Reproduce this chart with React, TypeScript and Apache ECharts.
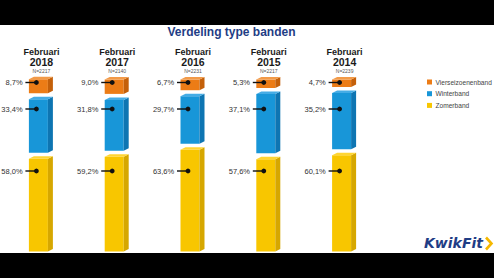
import React, { useEffect, useRef } from 'react';
import * as echarts from 'echarts';

const years = ['2018', '2017', '2016', '2015', '2014'];
const sampleSizes = ['N=2217', 'N=2140', 'N=2231', 'N=2217', 'N=2239'];
const zomerband = [58.0, 59.2, 63.6, 57.6, 60.1];
const winterband = [33.4, 31.8, 29.7, 37.1, 35.2];
const vierseizoenenband = [8.7, 9.0, 6.7, 5.3, 4.7];
const seriesNames = ['Zomerband', 'Winterband', 'Vierseizoenenband'];
const legendOrder = ['Vierseizoenenband', 'Winterband', 'Zomerband'];

const levels = [zomerband, winterband, vierseizoenenband];
const palettes = [
  { front: '#F8C600', side: '#D6A700', top: '#FFD533' },
  { front: '#1896D8', side: '#0E75B2', top: '#45ACE5' },
  { front: '#EC7C16', side: '#C4600A', top: '#F29A48' },
];
const LABEL_ROWS = [171, 109, 82.5];
const GAP = 6;
const BAR_W = 19;
const DX = 5;
const DY = 2.5;

const fmt = (v: number) => v.toFixed(1).replace('.', ',') + '%';

const makeRender = (k: number) => (params: any, api: any) => {
  const i = api.value(0);
  const v = api.value(1);
  let base = 0;
  for (let j = 0; j < k; j++) base += levels[j][i];
  const c = api.coord([i, 0])[0];
  const yBot = api.coord([i, base])[1] - k * GAP;
  const yTop = api.coord([i, base + v])[1] - k * GAP;
  const xl = c - BAR_W / 2;
  const xr = c + BAR_W / 2;
  const pal = palettes[k];
  const row = LABEL_ROWS[k];
  const dotX = c - 2;
  return {
    type: 'group',
    children: [
      { type: 'rect', shape: { x: xl, y: yTop, width: BAR_W, height: yBot - yTop }, style: { fill: pal.front } },
      {
        type: 'polygon',
        shape: { points: [[xr, yTop], [xr + DX, yTop - DY], [xr + DX, yBot - DY], [xr, yBot]] },
        style: { fill: pal.side },
      },
      {
        type: 'polygon',
        shape: { points: [[xl, yTop], [xl + DX, yTop - DY], [xr + DX, yTop - DY], [xr, yTop]] },
        style: { fill: pal.top },
      },
      { type: 'line', shape: { x1: c - 13, y1: row, x2: dotX, y2: row }, style: { stroke: '#111', lineWidth: 1.4 } },
      { type: 'circle', shape: { cx: dotX, cy: row, r: 2.4 }, style: { fill: '#111' } },
      {
        type: 'text',
        x: c - 15.8,
        y: row,
        style: {
          text: fmt(v),
          align: 'right',
          verticalAlign: 'middle',
          fontSize: 7.5,
          fontFamily: 'Liberation Sans',
          fill: '#333',
        },
      },
    ],
  };
};

export default function App() {
  const ref = useRef<HTMLDivElement>(null);
  useEffect(() => {
    if (!ref.current) return;
    const chart = echarts.init(ref.current, null, { renderer: 'svg' });
    chart.setOption({
      animation: false,
      backgroundColor: '#ffffff',
      grid: { left: 0.5, width: 379, top: 91.5, bottom: 26.5 },
      legend: {
        orient: 'vertical',
        left: 427,
        top: 78,
        padding: 0,
        itemWidth: 5,
        itemHeight: 5,
        itemGap: 3.7,
        icon: 'rect',
        data: legendOrder,
        textStyle: { fontSize: 6.6, lineHeight: 8, color: '#444', fontFamily: 'Liberation Sans', padding: [0, 0, 0, -1.5] },
      },
      xAxis: {
        type: 'category',
        data: years,
        position: 'top',
        axisLine: { show: false },
        axisTick: { show: false },
        splitLine: { show: false },
        axisLabel: {
          interval: 0,
          margin: 17.5,
          padding: [0, 0, 0, 6],
          formatter: (val: string, idx: number) => `{a|Februari}\n{b|${val}}\n{c|${sampleSizes[idx]}}`,
          rich: {
            a: { fontSize: 9, lineHeight: 10, fontWeight: 'bold', color: '#1a1a1a', fontFamily: 'Liberation Sans' },
            b: { fontSize: 10.5, lineHeight: 10, fontWeight: 'bold', color: '#1a1a1a', fontFamily: 'Liberation Sans' },
            c: { fontSize: 5, lineHeight: 7, color: '#555', fontFamily: 'Liberation Sans' },
          },
        },
      },
      yAxis: { type: 'value', min: 0, max: 100, show: false },
      series: levels.map((vals, k) => ({
        type: 'custom',
        name: seriesNames[k],
        itemStyle: { color: palettes[k].front },
        encode: { x: 0, y: 1 },
        data: vals.map((v, i) => [i, v]),
        renderItem: makeRender(k),
      })),
      graphic: [
        { type: 'rect', left: 0, top: 0, shape: { width: 494, height: 25 }, style: { fill: '#000' } },
        { type: 'rect', left: 0, top: 253, shape: { width: 494, height: 25 }, style: { fill: '#000' } },
        {
          type: 'text',
          x: 231.5,
          y: 31.5,
          style: {
            text: 'Verdeling type banden',
            align: 'center',
            verticalAlign: 'middle',
            fontSize: 12,
            fontWeight: 'bold',
            fontFamily: 'Liberation Sans',
            fill: '#1f3d85',
          },
        },
        {
          type: 'text',
          x: 424,
          y: 243,
          style: {
            text: 'KwikFit',
            verticalAlign: 'middle',
            fontSize: 14,
            fontWeight: 'bold',
            fontStyle: 'italic',
            fontFamily: 'DejaVu Sans',
            fill: '#1f3d85',
          },
        },
        {
          type: 'polyline',
          shape: { points: [[486, 237.5], [491.5, 243.5], [486, 249.5]] },
          style: { stroke: '#F5B800', lineWidth: 2.6, fill: 'none' },
        },
      ],
    });
    return () => chart.dispose();
  }, []);
  return <div ref={ref} style={{ position: 'absolute', left: 0, top: 0, width: 494, height: 278 }} />;
}
